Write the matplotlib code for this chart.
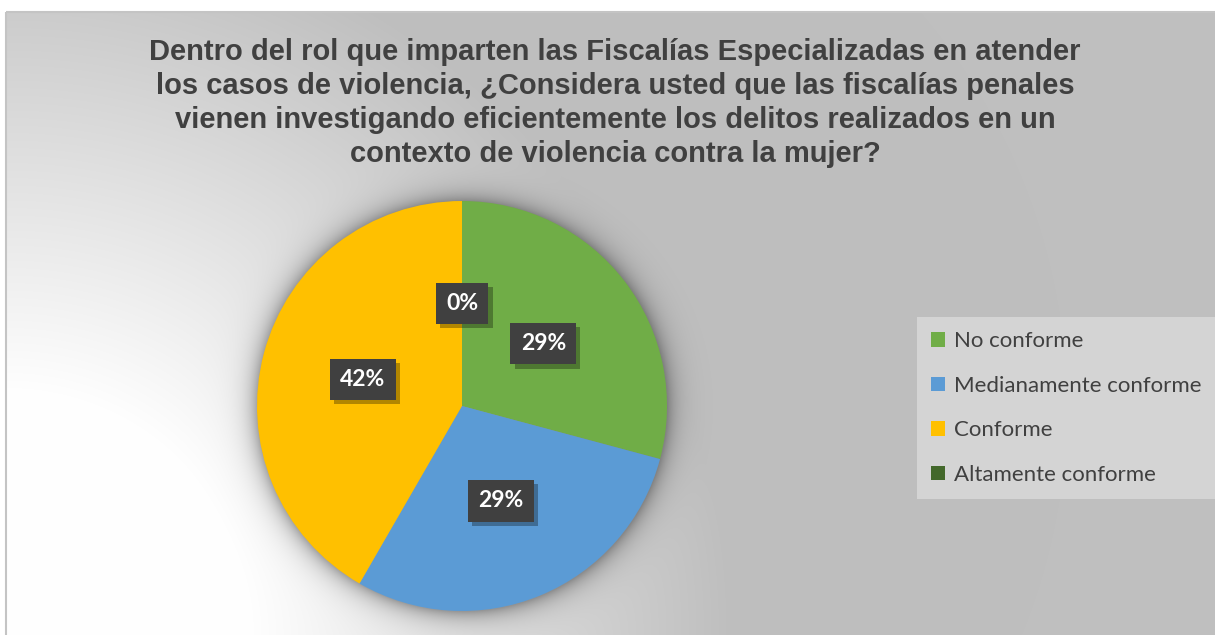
import numpy as np
import matplotlib.pyplot as plt
from matplotlib.patches import Rectangle, Patch
from matplotlib import patheffects as pe

# data
categories = ['No conforme', 'Medianamente conforme', 'Conforme', 'Altamente conforme']
counts = [7, 7, 10, 0]
colors = ['#70ad47', '#5b9bd5', '#ffc000', '#43682b']
title = ('Dentro del rol que imparten las Fiscalías Especializadas en atender\n'
         'los casos de violencia, ¿Considera usted que las fiscalías penales\n'
         'vienen investigando eficientemente los delitos realizados en un\n'
         'contexto de violencia contra la mujer?')

W, H = 1215, 635
fig = plt.figure(figsize=(W / 100, H / 100), dpi=100)
fig.patch.set_facecolor('white')

# background axes (pixel coords)
bg = fig.add_axes([0, 0, 1, 1], zorder=0)
bg.set_axis_off()

# pie axes
lim = 250 / 205
size = 500
cx, cy = 462, H - 406
ax = fig.add_axes([(cx - size / 2) / W, (cy - size / 2) / H, size / W, size / H], zorder=1)

wedges, texts, autotexts = ax.pie(
    counts, colors=colors, startangle=90, counterclock=False,
    autopct=lambda p: '%d%%' % round(p), pctdistance=0.5,
    wedgeprops=dict(linewidth=0), textprops=dict(color='white'))
ax.set_xlim(-lim, lim)
ax.set_ylim(-lim, lim)
ax.set_aspect('equal')
ax.set_axis_off()

for t in autotexts:
    t.set_fontsize(16.5)
    t.set_fontweight('bold')
    t.set_family(['Lato', 'DejaVu Sans'])
    t.set_bbox(dict(boxstyle='square,pad=0.45', facecolor='#404040', edgecolor='none'))
    t.get_bbox_patch().set_path_effects([
        pe.SimplePatchShadow(offset=(3, -3), shadow_rgbFace='black', alpha=0.3), pe.Normal()])

# background gradient + pie glow, computed from the pie position
fig.canvas.draw()
pc = ax.transData.transform((0, 0))
pr = ax.transData.transform((1, 0))[0] - pc[0]
yy, xx = np.mgrid[0:H, 0:W]
ypix = H - yy
r = np.hypot(xx - 6, ypix - 0)
t = np.clip((r - 240) / 480, 0, 1)
val = 255 - (255 - 191) * t
d = np.hypot(xx - pc[0], ypix - pc[1]) - pr
shadow = np.where(d > 0, np.exp(-np.clip(d, 0, None) / 11.0), 1.0)
val = val * (1 - 0.33 * shadow)
val[:12, :] = 255
val[:, :6] = 255
img = np.dstack([val, val, val]) / 255.0
bg.imshow(img, extent=[0, W, H, 0], origin='upper', aspect='auto', interpolation='bilinear')
bg.set_xlim(0, W)
bg.set_ylim(H, 0)
bg.add_patch(Rectangle((6, 12), W, H, facecolor='none', edgecolor='#c4c4c4', linewidth=1.5))

fig.text(615 / W, 1 - 38 / H, title, ha='center', va='top', fontsize=21,
         fontweight='bold', color='#404040', family='Liberation Sans', linespacing=1.28,
         zorder=3)

handles = [Patch(facecolor=c, edgecolor='none') for c in colors]
leg = fig.legend(handles, categories, loc='upper left',
                 bbox_to_anchor=(917 / W, 1 - 317 / H), frameon=True,
                 labelspacing=1.1, handlelength=0.62, handleheight=0.62,
                 handletextpad=0.4, borderpad=0.65, borderaxespad=0, fancybox=False,
                 prop=dict(family=['Lato', 'DejaVu Sans'], size=16))
leg.get_frame().set_facecolor('#d4d4d4')
leg.get_frame().set_edgecolor('none')
leg.get_frame().set_alpha(1)
leg.set_zorder(3)
for txt in leg.get_texts():
    txt.set_color('#404040')

fig.savefig('out.png', dpi=100)
